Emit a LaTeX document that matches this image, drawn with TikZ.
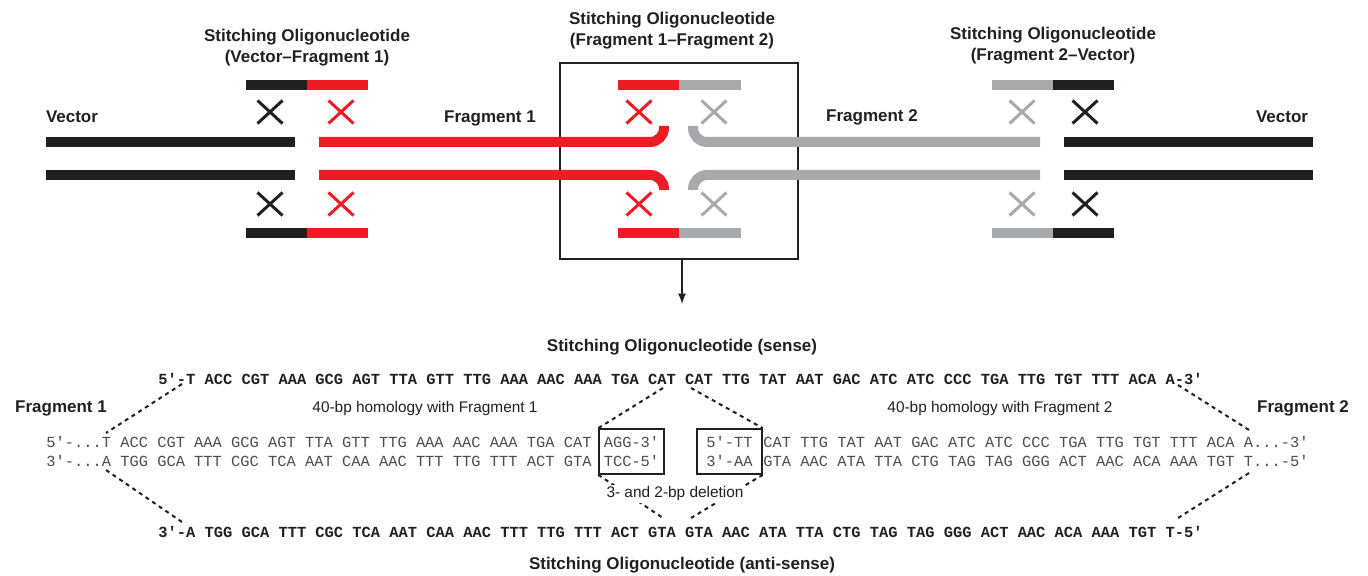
\documentclass[tikz,border=0pt]{standalone}
\usepackage{fontspec}
\setmainfont{Liberation Sans}
\setmonofont{Liberation Mono}
\usetikzlibrary{shapes.misc}
\definecolor{dnared}{HTML}{ED1C24}
\definecolor{dnagray}{HTML}{A7A9AC}
\definecolor{dnablack}{HTML}{231F20}
\begin{document}
\begin{tikzpicture}
		[x=0.5pt,y=-0.5pt,
		strand/.style={line width=5pt},
		oligo/.style={line width=4.8pt},
		xmark/.style={cross out,draw,line width=1.5pt,minimum width=11pt,
minimum height=10pt,inner sep=0pt},
		boldlabel/.style={text=dnablack,align=center,
font=\fontsize{8.5}{10.5}\selectfont\bfseries},
		plainlabel/.style={text=dnablack,font=\fontsize{7.7}{9}\selectfont},
		senseseq/.style={anchor=west,inner sep=0pt,text=dnablack,
font=\fontsize{7.7}{9}\selectfont\ttfamily\bfseries},
		midseq/.style={inner sep=0pt,text=black!70,align=left,
font=\fontsize{7.7}{9.5}\selectfont\ttfamily},
		cutbox/.style={draw=dnablack,line width=0.8pt,minimum width=32.5pt,
minimum height=22.5pt},
		dashline/.style={dash pattern=on 2pt off 2pt,line width=1pt,dnablack}]
		\useasboundingbox (0,0) rectangle (1368,576);
		\node at (679,161) (stitchbox) [draw=dnablack,line width=0.8pt,
minimum width=119pt,minimum height=98pt] {};
		\coordinate (arrowtip) at (682,304);
		\draw [-latex,dnablack,line width=0.8pt] (stitchbox.south -| arrowtip) -- (arrowtip);
		\draw [strand,dnablack] (46,142) -- (295,142);
		\draw [strand,dnablack] (46,175) -- (295,175);
		\draw [strand,dnared,rounded corners=7pt] (319,142) -- (664,142) -- (664,126);
		\draw [strand,dnared,rounded corners=7pt] (319,175) -- (664,175) -- (664,190);
		\draw [strand,dnagray,rounded corners=7pt] (1040,142) -- (693,142) -- (693,126);
		\draw [strand,dnagray,rounded corners=7pt] (1040,175) -- (693,175) -- (693,190);
		\draw [strand,dnablack] (1064,142) -- (1313,142);
		\draw [strand,dnablack] (1064,175) -- (1313,175);
		\foreach \y in {85,233} {
			\draw [oligo,dnablack] (246,\y) -- (307,\y);
			\draw [oligo,dnared] (307,\y) -- (368,\y);
			\draw [oligo,dnared] (618,\y) -- (679,\y);
			\draw [oligo,dnagray] (679,\y) -- (741,\y);
			\draw [oligo,dnagray] (992,\y) -- (1053,\y);
			\draw [oligo,dnablack] (1053,\y) -- (1114,\y);
		}
		\foreach \y/\n in {112/t,204/b} {
			\node at (270,\y) (xva\n) [xmark,dnablack] {};
			\node at (341,\y) (xfa\n) [xmark,dnared] {};
			\node at (639,\y) (xfb\n) [xmark,dnared] {};
			\node at (714,\y) (xgb\n) [xmark,dnagray] {};
			\node at (1022,\y) (xgc\n) [xmark,dnagray] {};
			\node at (1085,\y) (xvc\n) [xmark,dnablack] {};
		}
		\node at (72,117) (vecl) [boldlabel] {Vector};
		\node at (1282,117) (vecr) [boldlabel] {Vector};
		\node at (490,118) (frag1) [boldlabel] {Fragment 1};
		\node at (872,117) (frag2) [boldlabel] {Fragment 2};
		\node at (307,48) (oligoa) [boldlabel] {Stitching Oligonucleotide\\(Vector--Fragment 1)};
		\node at (672,31) (oligob) [boldlabel] {Stitching Oligonucleotide\\(Fragment 1--Fragment 2)};
		\node at (1053,46) (oligoc) [boldlabel] {Stitching Oligonucleotide\\(Fragment 2--Vector)};
		\node at (682,347) (sensetitle) [boldlabel] {Stitching Oligonucleotide (sense)};
		\node at (158,379) (sense) [senseseq] {5'-T ACC CGT AAA GCG AGT TTA GTT TTG AAA AAC AAA TGA CAT CAT TTG TAT AAT GAC ATC ATC CCC TGA TTG TGT TTT ACA A-3'};
		\node at (61,408) (f1lab) [boldlabel] {Fragment 1};
		\node at (1303,408) (f2lab) [boldlabel] {Fragment 2};
		\node at (425,409) (hom1) [plainlabel] {40-bp homology with Fragment 1};
		\node at (1000,409) (hom2) [plainlabel] {40-bp homology with Fragment 2};
		\node at (46,451.5) (f1seq) [midseq,anchor=west] {5'-...T ACC CGT AAA GCG AGT TTA GTT TTG AAA AAC AAA TGA CAT\\3'-...A TGG GCA TTT CGC TCA AAT CAA AAC TTT TTG TTT ACT GTA};
		\node at (631.5,451.5) (cut1) [midseq,cutbox] {AGG-3'\\TCC-5'};
		\node at (729.5,451.5) (cut2) [midseq,cutbox] {5'-TT\\3'-AA};
		\node at (763,451.5) (f2seq) [midseq,anchor=west] {CAT TTG TAT AAT GAC ATC ATC CCC TGA TTG TGT TTT ACA A...-3'\\GTA AAC ATA TTA CTG TAG TAG GGG ACT AAC ACA AAA TGT T...-5'};
		\node at (158,532) (antisense) [senseseq] {3'-A TGG GCA TTT CGC TCA AAT CAA AAC TTT TTG TTT ACT GTA GTA AAC ATA TTA CTG TAG TAG GGG ACT AAC ACA AAA TGT T-5'};
		\node at (682,565) (antititle) [boldlabel] {Stitching Oligonucleotide (anti-sense)};
		\coordinate (d1) at (182,384);
		\coordinate (d2) at (106,433);
		\coordinate (d3) at (106,470);
		\coordinate (d4) at (182,522);
		\coordinate (d5) at (663,388);
		\coordinate (d6) at (691,388);
		\coordinate (d7) at (663,518);
		\coordinate (d8) at (691,518);
		\coordinate (d9) at (1178,385);
		\coordinate (d10) at (1249,430);
		\coordinate (d11) at (1249,473);
		\coordinate (d12) at (1178,518);
		\draw [dashline] (d1) -- (d2);
		\draw [dashline] (d3) -- (d4);
		\draw [dashline] (d5) -- (cut1.north west);
		\draw [dashline] (d6) -- (cut2.north east);
		\draw [dashline] (cut1.south west) -- (d7);
		\draw [dashline] (cut2.south east) -- (d8);
		\draw [dashline] (d9) -- (d10);
		\draw [dashline] (d11) -- (d12);
		\node at (675,494) (deletion) [plainlabel,fill=white,inner sep=1pt] {3- and 2-bp deletion};
	\end{tikzpicture}
\end{document}
